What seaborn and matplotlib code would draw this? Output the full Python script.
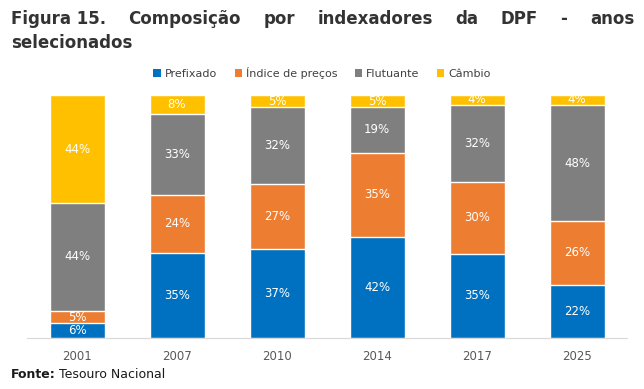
import pandas as pd
import matplotlib.pyplot as plt
import seaborn as sns
from matplotlib.patches import Patch

# Dados (composição da DPF por indexador, %)
anos = ["2001", "2007", "2010", "2014", "2017", "2025"]
prefixado = [6, 35, 37, 42, 35, 22]
indice_precos = [5, 24, 27, 35, 30, 26]
flutuante = [44, 33, 32, 19, 32, 48]
cambio = [44, 8, 5, 5, 4, 4]

series = ["Prefixado", "Índice de preços", "Flutuante", "Câmbio"]
cores = ["#0070C0", "#ED7D31", "#7F7F7F", "#FFC000"]

df = pd.DataFrame({"Ano": anos, "Prefixado": prefixado, "Índice de preços": indice_precos,
                   "Flutuante": flutuante, "Câmbio": cambio})
# barras empilhadas a 100%
norm = df[series].div(df[series].sum(axis=1), axis=0) * 100
cum = norm.cumsum(axis=1)

sns.set_style("white")
plt.rcParams['font.family'] = ['DejaVu Sans']

W, H = 644, 389
fig = plt.figure(figsize=(W / 100, H / 100), dpi=100)
ax = fig.add_axes([27 / W, 51 / H, 600 / W, 243 / H])

# desenha do total para baixo, cada barra cobrindo a anterior
for serie, cor in reversed(list(zip(series, cores))):
    sns.barplot(x=df["Ano"], y=cum[serie], color=cor, saturation=1, width=0.55, ax=ax)

# rótulos dentro dos segmentos
for i in range(len(anos)):
    for serie in series:
        meio = cum.loc[i, serie] - norm.loc[i, serie] / 2
        ax.text(i, meio, f"{df.loc[i, serie]}%", ha="center", va="center",
                color="white", fontsize=8.5)

ax.set_xlim(-0.5, len(anos) - 0.5)
ax.set_ylim(0, 100)
ax.set_xlabel("")
ax.set_ylabel("")
ax.set_yticks([])
for lado in ["top", "right", "left"]:
    ax.spines[lado].set_visible(False)
ax.spines["bottom"].set_color("#D9D9D9")
ax.tick_params(axis="x", length=0, pad=9, labelsize=8.5, labelcolor="#595959")

# legenda
handles = [Patch(facecolor=c, edgecolor="none") for c in cores]
fig.legend(handles, series, loc="center", bbox_to_anchor=(0.5, 1 - 73 / H), ncol=4,
           frameon=False, fontsize=8, handlelength=0.65, handleheight=0.65,
           handletextpad=0.35, columnspacing=1.6, labelcolor="#404040")

# título justificado
fig.canvas.draw()
renderer = fig.canvas.get_renderer()
palavras = ["Figura 15.", "Composição", "por", "indexadores", "da", "DPF", "-", "anos"]
textos = [fig.text(0, 1 - 24 / H, p, fontsize=12, fontweight="bold", color="#333333",
                   va="baseline", ha="left") for p in palavras]
larguras = [t.get_window_extent(renderer).width for t in textos]
x0, x1 = 11, 634
gap = (x1 - x0 - sum(larguras)) / (len(palavras) - 1)
x = x0
for t, w in zip(textos, larguras):
    t.set_x(x / W)
    x += w + gap
fig.text(x0 / W, 1 - 48 / H, "selecionados", fontsize=12, fontweight="bold",
         color="#333333", va="baseline", ha="left")

# fonte
f1 = fig.text(11 / W, 1 - 378 / H, "Fonte:", fontsize=9, fontweight="bold",
              color="#1A1A1A", va="baseline")
w1 = f1.get_window_extent(renderer).width
fig.text((11 + w1 + 3) / W, 1 - 378 / H, "Tesouro Nacional", fontsize=9,
         color="#1A1A1A", va="baseline")

fig.savefig("out.png", dpi=100)
